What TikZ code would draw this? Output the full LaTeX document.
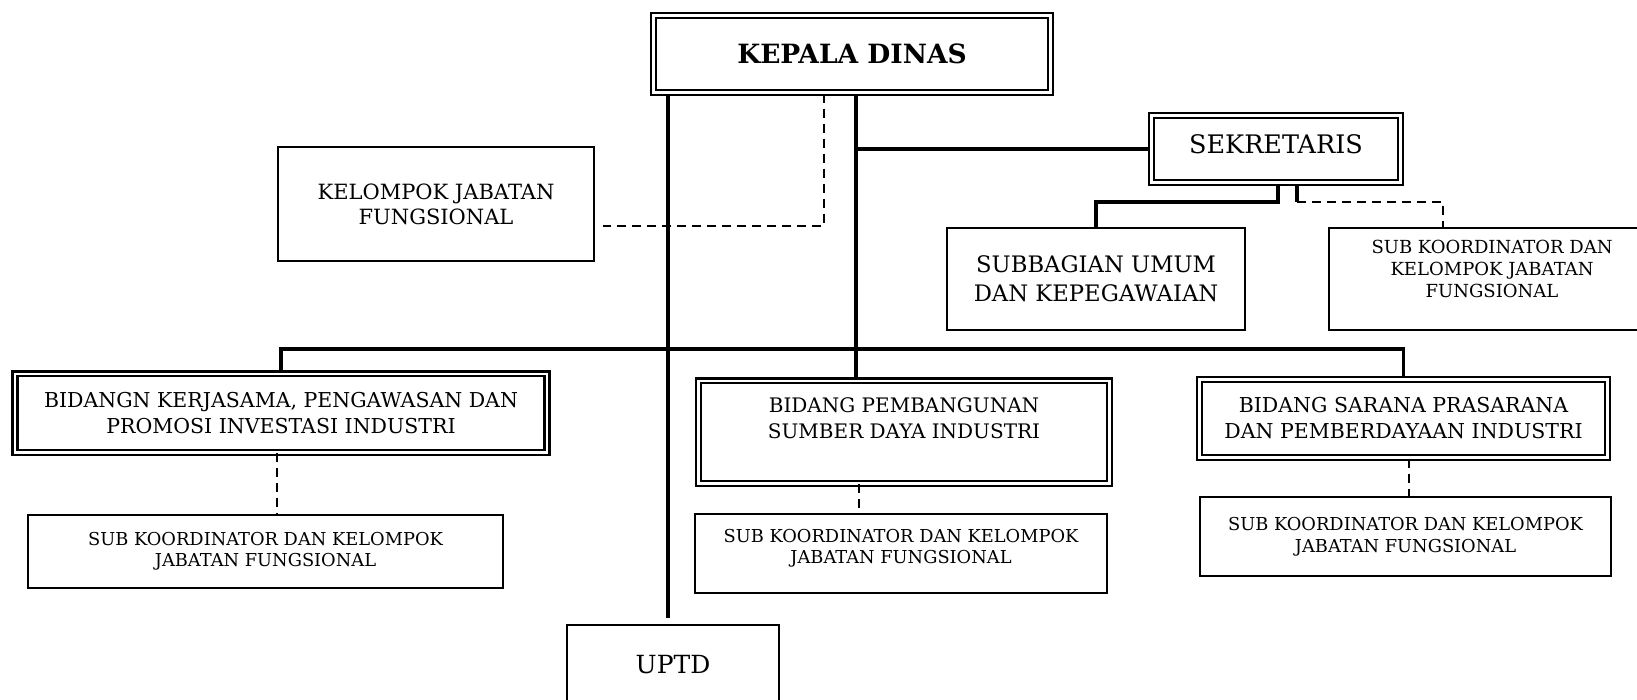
\documentclass[tikz,border=0pt]{standalone}
\usepackage{fontspec}
\setmainfont{DejaVu Serif}
\usetikzlibrary{calc}
\newcommand{\fs}[2]{\fontsize{#1}{#2}\selectfont}

\begin{document}
\begin{tikzpicture}[x=1pt,y=-1pt,
  box/.style={draw,line width=2pt,align=center,inner sep=0pt},
  dbox/.style={draw,double,double distance=2.5pt,line width=2.4pt,align=center,inner sep=0pt},
  link/.style={line width=3.3pt},
  dlink/.style={line width=2pt,dash pattern=on 9pt off 6pt}]
\useasboundingbox (0,0) rectangle (1637,699);
\clip (0,0) rectangle (1637,699);
\node[dbox,minimum width=397pt,minimum height=77pt,font=\fs{26.5}{30}\bfseries] (kadis) at (852,54) {KEPALA DINAS};
\node[dbox,minimum width=249pt,minimum height=67pt] (sekr) at (1276,149) {};
\node[font=\fs{25.5}{30}] (sekr-t) at (1276,144) {SEKRETARIS};
\node[box,minimum width=316pt,minimum height=114pt,font=\fs{21}{25}] (jabfung) at (436,204) {KELOMPOK JABATAN\\FUNGSIONAL};
\node[box,minimum width=298pt,minimum height=102pt,font=\fs{22.7}{29}] (umum) at (1096,279) {SUBBAGIAN UMUM\\DAN KEPEGAWAIAN};
\node[box,minimum width=326pt,minimum height=102pt] (subsek) at (1492,279) {};
\node[align=center,font=\fs{18}{22}] (subsek-t) at (1492,269) {SUB KOORDINATOR DAN\\KELOMPOK JABATAN\\FUNGSIONAL};
% bidang
\node[dbox,minimum width=532pt,minimum height=78.5pt,font=\fs{20.5}{26}] (bkpi) at (281,413) {BIDANGN KERJASAMA, PENGAWASAN DAN\\PROMOSI INVESTASI INDUSTRI};
\node[dbox,minimum width=411pt,minimum height=102.5pt] (bpsdi) at (904,432) {};
\node[align=center,font=\fs{20}{26}] (bpsdi-t) at (904,418) {BIDANG PEMBANGUNAN\\SUMBER DAYA INDUSTRI};
\node[dbox,minimum width=408pt,minimum height=78pt,font=\fs{20.5}{26}] (bspi) at (1403.5,418.5) {BIDANG SARANA PRASARANA\\DAN PEMBERDAYAAN INDUSTRI};
\node[box,minimum width=475pt,minimum height=73pt,font=\fs{17.8}{21}] (subA) at (265.5,551.5) {SUB KOORDINATOR DAN KELOMPOK\\JABATAN FUNGSIONAL};
\node[box,minimum width=412pt,minimum height=79pt] (subB) at (901,553) {};
\node[align=center,font=\fs{17.8}{21}] (subB-t) at (901,548) {SUB KOORDINATOR DAN KELOMPOK\\JABATAN FUNGSIONAL};
\node[box,minimum width=411pt,minimum height=79pt,font=\fs{17.8}{22}] (subC) at (1405.5,536.5) {SUB KOORDINATOR DAN KELOMPOK\\JABATAN FUNGSIONAL};
\node[box,minimum width=212pt,minimum height=80pt,font=\fs{25}{28}] (uptd) at (673,665) {UPTD};

\draw[link] (668,0 |- kadis.south) -- ($(668,0 |- uptd.north)+(0,-6)$);
\draw[dlink] (824,0 |- kadis.south) -- (824,226) -- ($(jabfung.east |- 0,226)+(8,0)$);
\draw[link] (856,0 |- kadis.south) -- (856,0 |- bpsdi.north);
\draw[link] (856,0 |- sekr.west) -- (sekr.west);
\draw[link] (1278,0 |- sekr.south) -- (1278,202) -| (umum.north);
\draw[link] (1297,0 |- sekr.south) -- (1297,202);
\draw[dlink] (1297,202) -- (1443,202) -- (1443,0 |- subsek.north);
\draw[link] (bkpi.north) -- (bkpi.north |- 0,349) -- (bspi.north |- 0,349) -- (bspi.north);
\draw[dlink] (277,0 |- bkpi.south) -- (277,0 |- subA.north);
\draw[dlink] (859,0 |- bpsdi.south) -- (859,0 |- subB.north);
\draw[dlink] (1409,0 |- bspi.south) -- (1409,0 |- subC.north);
\end{tikzpicture}
\end{document}
